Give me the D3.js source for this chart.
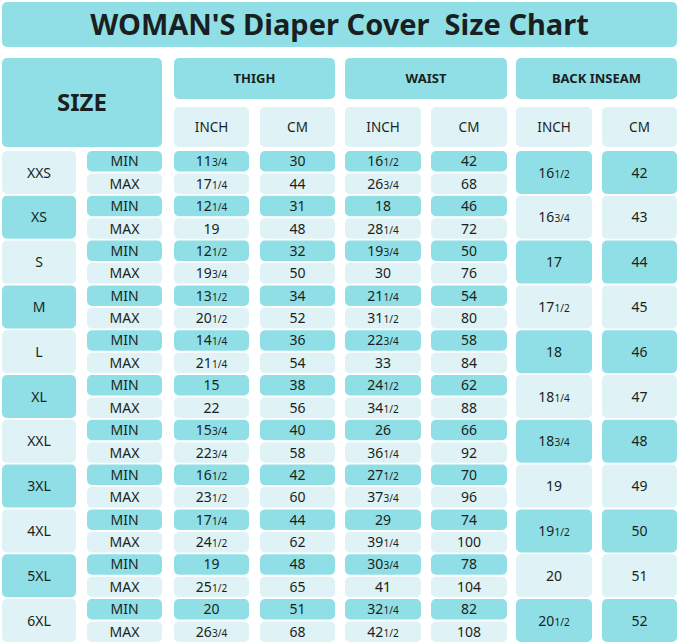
<!DOCTYPE html>
<html><head><meta charset="utf-8">
<script src="https://cdn.jsdelivr.net/npm/d3@7"></script>
<style>body{margin:0;background:#fff}svg{display:block}</style>
</head><body><div id="chart"></div>
<script>
const sizes = ['XXS','XS','S','M','L','XL','XXL','3XL','4XL','5XL','6XL'];
const thighInchMin = ['11 3/4','12 1/4','12 1/2','13 1/2','14 1/4','15','15 3/4','16 1/2','17 1/4','19','20'];
const thighInchMax = ['17 1/4','19','19 3/4','20 1/2','21 1/4','22','22 3/4','23 1/2','24 1/2','25 1/2','26 3/4'];
const thighCmMin = [30,31,32,34,36,38,40,42,44,48,51];
const thighCmMax = [44,48,50,52,54,56,58,60,62,65,68];
const waistInchMin = ['16 1/2','18','19 3/4','21 1/4','22 3/4','24 1/2','26','27 1/2','29','30 3/4','32 1/4'];
const waistInchMax = ['26 3/4','28 1/4','30','31 1/2','33','34 1/2','36 1/4','37 3/4','39 1/4','41','42 1/2'];
const waistCmMin = [42,46,50,54,58,62,66,70,74,78,82];
const waistCmMax = [68,72,76,80,84,88,92,96,100,104,108];
const inseamInch = ['16 1/2','16 3/4','17','17 1/2','18','18 1/4','18 3/4','19','19 1/2','20','20 1/2'];
const inseamCm = [42,43,44,45,46,47,48,49,50,51,52];

const W = 679, H = 642;
const DARK = '#90dfe6', LIGHT = '#dff2f5', INK = '#1a1f22';
const svg = d3.select('#chart').append('svg').attr('width', W).attr('height', H)
  .style('font-family', '"Noto Sans", sans-serif');

// column edges
const cols = {size:[2,76], mm:[87,162], ti:[174,249], tc:[260,335], wi:[345,421], wc:[431,507], bi:[516,592], bc:[602,677]};

const y = d3.scaleBand().domain(sizes).range([151, 642]).paddingInner(0.04);

function box(x0, x1, y0, y1, fill) {
  svg.append('rect').attr('x', x0).attr('y', y0).attr('width', x1 - x0).attr('height', y1 - y0)
    .attr('rx', 5).attr('fill', fill);
}
function label(x0, x1, y0, y1, txt, size, weight) {
  const t = svg.append('text').attr('x', (x0 + x1) / 2).attr('y', (y0 + y1) / 2 + size * 0.36)
    .attr('text-anchor', 'middle')
    .attr('font-size', size).attr('font-weight', weight || 400).attr('fill', INK);
  const s = String(txt);
  const m = s.match(/^(\d+) (\d\/\d)$/);
  if (m) {
    t.append('tspan').text(m[1]);
    t.append('tspan').attr('font-size', size * 0.72).text(m[2]);
  } else {
    t.text(s);
  }
}

// title
box(2, 677, 2, 47, DARK);
label(2, 677, 2, 47, "WOMAN'S Diaper Cover\u00a0 Size Chart", 29, 700);

// header
box(2, 162, 58, 147, DARK);
label(2, 162, 58, 147, 'SIZE', 24, 700);
[['THIGH','ti','tc'],['WAIST','wi','wc'],['BACK INSEAM','bi','bc']].forEach(h => {
  box(cols[h[1]][0], cols[h[2]][1], 58, 99, DARK);
  label(cols[h[1]][0], cols[h[2]][1], 58, 99, h[0], 13, 700);
  box(cols[h[1]][0], cols[h[1]][1], 107, 147, LIGHT);
  label(cols[h[1]][0], cols[h[1]][1], 107, 147, 'INCH', 13.5);
  box(cols[h[2]][0], cols[h[2]][1], 107, 147, LIGHT);
  label(cols[h[2]][0], cols[h[2]][1], 107, 147, 'CM', 13.5);
});

const FS = 14;
sizes.forEach((s, i) => {
  const y0 = y(s), bh = y.bandwidth(), y1 = y0 + bh, mid = y0 + bh / 2;
  const sizeFill = i % 2 ? DARK : LIGHT;
  const insFill = i % 2 ? LIGHT : DARK;
  box(cols.size[0], cols.size[1], y0, y1, sizeFill);
  label(cols.size[0], cols.size[1], y0, y1, s, FS);
  box(cols.bi[0], cols.bi[1], y0, y1, insFill);
  label(cols.bi[0], cols.bi[1], y0, y1, inseamInch[i], FS);
  box(cols.bc[0], cols.bc[1], y0, y1, insFill);
  label(cols.bc[0], cols.bc[1], y0, y1, inseamCm[i], FS);
  const rows = [
    [y0, mid - 1, DARK, ['MIN', thighInchMin[i], thighCmMin[i], waistInchMin[i], waistCmMin[i]]],
    [mid + 1, y1, LIGHT, ['MAX', thighInchMax[i], thighCmMax[i], waistInchMax[i], waistCmMax[i]]]
  ];
  rows.forEach(r => {
    ['mm','ti','tc','wi','wc'].forEach((c, k) => {
      box(cols[c][0], cols[c][1], r[0], r[1], r[2]);
      label(cols[c][0], cols[c][1], r[0], r[1], r[3][k], FS);
    });
  });
});
</script></body></html>
